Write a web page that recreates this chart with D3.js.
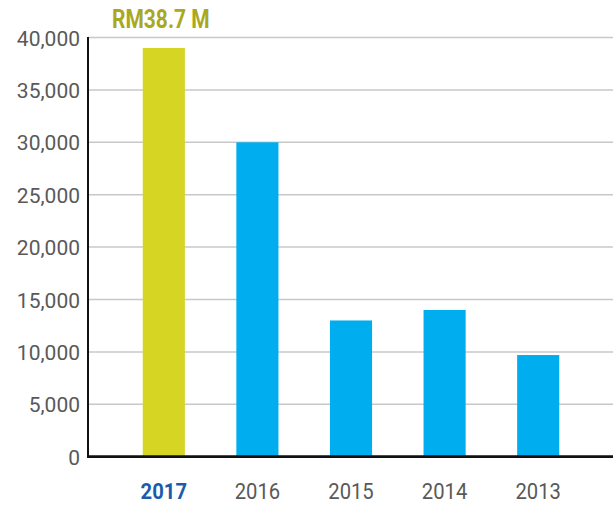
<!DOCTYPE html>
<html>
<head>
<meta charset="utf-8">
<script src="https://cdn.jsdelivr.net/npm/d3@7"></script>
<style>
html,body{margin:0;padding:0;background:#fff;}
svg{display:block;}
text{font-family:Roboto,"Liberation Sans",sans-serif;}
</style>
</head>
<body>
<svg id="chart" width="616" height="506"></svg>
<script>
const years = ["2017", "2016", "2015", "2014", "2013"];
const values = [39000, 30000, 13000, 14000, 9700];
const highlightYear = "2017";
const yTicks = [0, 5000, 10000, 15000, 20000, 25000, 30000, 35000, 40000];
const title = "RM38.7 M";

const svg = d3.select("#chart");
const mLeft = 88, mRight = 613, mTop = 37.5, mBottom = 456.7;

const x = d3.scaleBand().domain(years).range([117, 585])
  .paddingInner(0.55).paddingOuter(0.275);
const y = d3.scaleLinear().domain([0, 40000]).range([mBottom, mTop]);

// gridlines
svg.append("g").selectAll("line").data(yTicks.filter(d => d > 0)).join("line")
  .attr("x1", mLeft).attr("x2", mRight)
  .attr("y1", d => y(d)).attr("y2", d => y(d))
  .attr("stroke", "#c8c8c8").attr("stroke-width", 1.5);

// bars
svg.append("g").selectAll("rect").data(years).join("rect")
  .attr("x", d => x(d))
  .attr("width", x.bandwidth())
  .attr("y", (d, i) => y(values[i]))
  .attr("height", (d, i) => y(0) - y(values[i]))
  .attr("fill", d => d === highlightYear ? "#d7d524" : "#00aeef");

// y axis
const yAxis = d3.axisLeft(y).tickValues(yTicks).tickSize(0).tickPadding(8)
  .tickFormat(d3.format(","));
const ya = svg.append("g").attr("transform", `translate(${mLeft},0)`).call(yAxis);
ya.select(".domain").remove();
ya.selectAll("text")
  .attr("font-size", 21).attr("fill", "#595959")
  .attr("font-family", "Roboto, sans-serif")
  .attr("dy", "0.36em");

// axis lines
svg.append("line").attr("x1", mLeft).attr("x2", mLeft)
  .attr("y1", y(40000) - 0.5).attr("y2", y(0))
  .attr("stroke", "#111").attr("stroke-width", 2);
svg.append("line").attr("x1", mLeft - 1).attr("x2", mRight)
  .attr("y1", y(0)).attr("y2", y(0))
  .attr("stroke", "#111").attr("stroke-width", 2.8);

// x axis labels
const xAxis = d3.axisBottom(x).tickSize(0).tickPadding(0);
const xa = svg.append("g").attr("transform", `translate(0,${mBottom})`).call(xAxis);
xa.select(".domain").remove();
xa.selectAll("text")
  .attr("y", 0).attr("dy", 0)
  .attr("font-size", 22)
  .attr("font-family", "Roboto, sans-serif")
  .attr("font-weight", d => d === highlightYear ? "bold" : "normal")
  .attr("fill", d => d === highlightYear ? "#1a5ca8" : "#595959")
  .attr("transform", "translate(0,42.5) scale(0.92,1)");
// d3 axis positions ticks via the parent g translate, so scale is around the tick center

// title label
const hx = x(highlightYear) + x.bandwidth() / 2 - 3;
svg.append("g").attr("transform", `translate(${hx},28) scale(0.84,1)`)
  .append("text")
  .attr("text-anchor", "middle")
  .attr("font-size", 25).attr("font-weight", "bold")
  .attr("fill", "#a9a81f")
  .text(title);
</script>
</body>
</html>
